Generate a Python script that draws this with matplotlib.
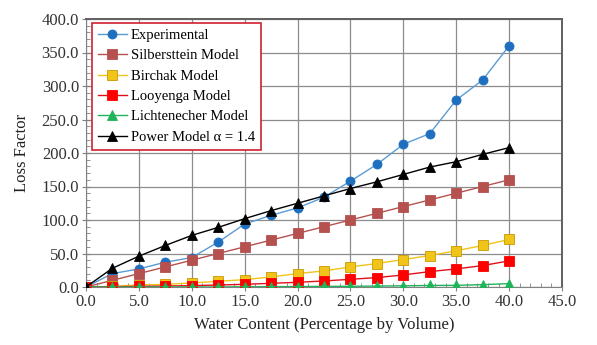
import matplotlib
matplotlib.use("Agg")
import matplotlib.pyplot as plt
from matplotlib.ticker import MultipleLocator, FormatStrFormatter

water = [0, 2.5, 5, 7.5, 10, 12.5, 15, 17.5, 20, 22.5, 25, 27.5, 30, 32.5, 35, 37.5, 40]
experimental = [0, 20, 27, 37, 44, 67, 94, 107, 118, 134, 158, 183, 213, 229, 279, 309, 360]
silberstein = [0, 10, 20, 30, 40, 50, 60, 70, 80, 90, 100, 110, 120, 130, 140, 150, 160]
birchak = [0, 1, 3, 4, 6, 8.5, 11, 15, 20, 24, 30, 35, 41, 47, 54, 62, 71]
looyenga = [0, 0.5, 1, 1.5, 2, 3, 4, 5.5, 7, 9, 11.5, 14, 18, 23, 27, 32, 39]
lichtenecker = [0, 0, 0, 0, 0, 0, 0.3, 0.5, 0.7, 0.9, 1.1, 1.4, 1.8, 2.3, 2.5, 3.5, 5]
power = [0, 28, 46, 62, 77, 89, 102, 114, 125, 136, 147, 157, 168, 179, 187, 198, 208]

series = [
    ("Experimental", experimental, "o", "#1f6fbf", "#5b9bd5"),
    ("Silbersttein Model", silberstein, "s", "#b5514f", "#b5514f"),
    ("Birchak Model", birchak, "s", "#f0c419", "#f0c419"),
    ("Looyenga Model", looyenga, "s", "#ff0000", "#e0101a"),
    ("Lichtenecher Model", lichtenecker, "^", "#1fb45a", "#1fb45a"),
    ("Power Model \u03b1 = 1.4", power, "^", "#000000", "#000000"),
]

plt.rcParams['font.family'] = ['Liberation Serif', 'DejaVu Serif']

fig = plt.figure(figsize=(5.97, 3.45), dpi=100)
ax = fig.add_axes([86/597, 1 - 287/345, (562-86)/597, (287-19)/345])

for label, vals, mk, mc, lc in series:
    edge = "#c89a00" if label.startswith("Birchak") else mc
    ax.plot(water, vals, color=lc, lw=1.0, marker=mk, markersize=6.5,
            markerfacecolor=mc, markeredgecolor=edge, markeredgewidth=0.6, label=label, zorder=3)

ax.set_xlim(0, 45)
ax.set_ylim(0, 400)
ax.xaxis.set_major_locator(MultipleLocator(5))
ax.yaxis.set_major_locator(MultipleLocator(50))
ax.xaxis.set_minor_locator(MultipleLocator(1))
ax.yaxis.set_minor_locator(MultipleLocator(10))
ax.xaxis.set_major_formatter(FormatStrFormatter('%.1f'))
ax.yaxis.set_major_formatter(FormatStrFormatter('%.1f'))
ax.tick_params(axis='both', which='major', direction='inout', length=6, width=0.8,
               color='#808080', labelsize=12, labelcolor='#333333', pad=2)
ax.tick_params(axis='both', which='minor', direction='in', length=3, width=0.6, color='#808080')
ax.grid(True, which='major', color='#8c8c8c', lw=0.9)
ax.set_axisbelow(True)
for s in ['left', 'bottom']:
    ax.spines[s].set_color('#808080')
    ax.spines[s].set_linewidth(0.8)
for s in ['right', 'top']:
    ax.spines[s].set_color('#606060')
    ax.spines[s].set_linewidth(1.4)

ax.set_xlabel("Water Content (Percentage by Volume)", fontsize=12, color='#222222', labelpad=5)
ax.set_ylabel("Loss Factor", fontsize=12, color='#222222', labelpad=8)

leg = ax.legend(loc='upper left', bbox_to_anchor=(0.012, 0.985), fontsize=10.5,
                frameon=True, fancybox=False, framealpha=1, edgecolor='#d02030',
                handlelength=2.0, handletextpad=0.3, borderpad=0.4, labelspacing=0.49,
                borderaxespad=0)
leg.get_frame().set_linewidth(1.2)

fig.savefig("out.png", dpi=100)
